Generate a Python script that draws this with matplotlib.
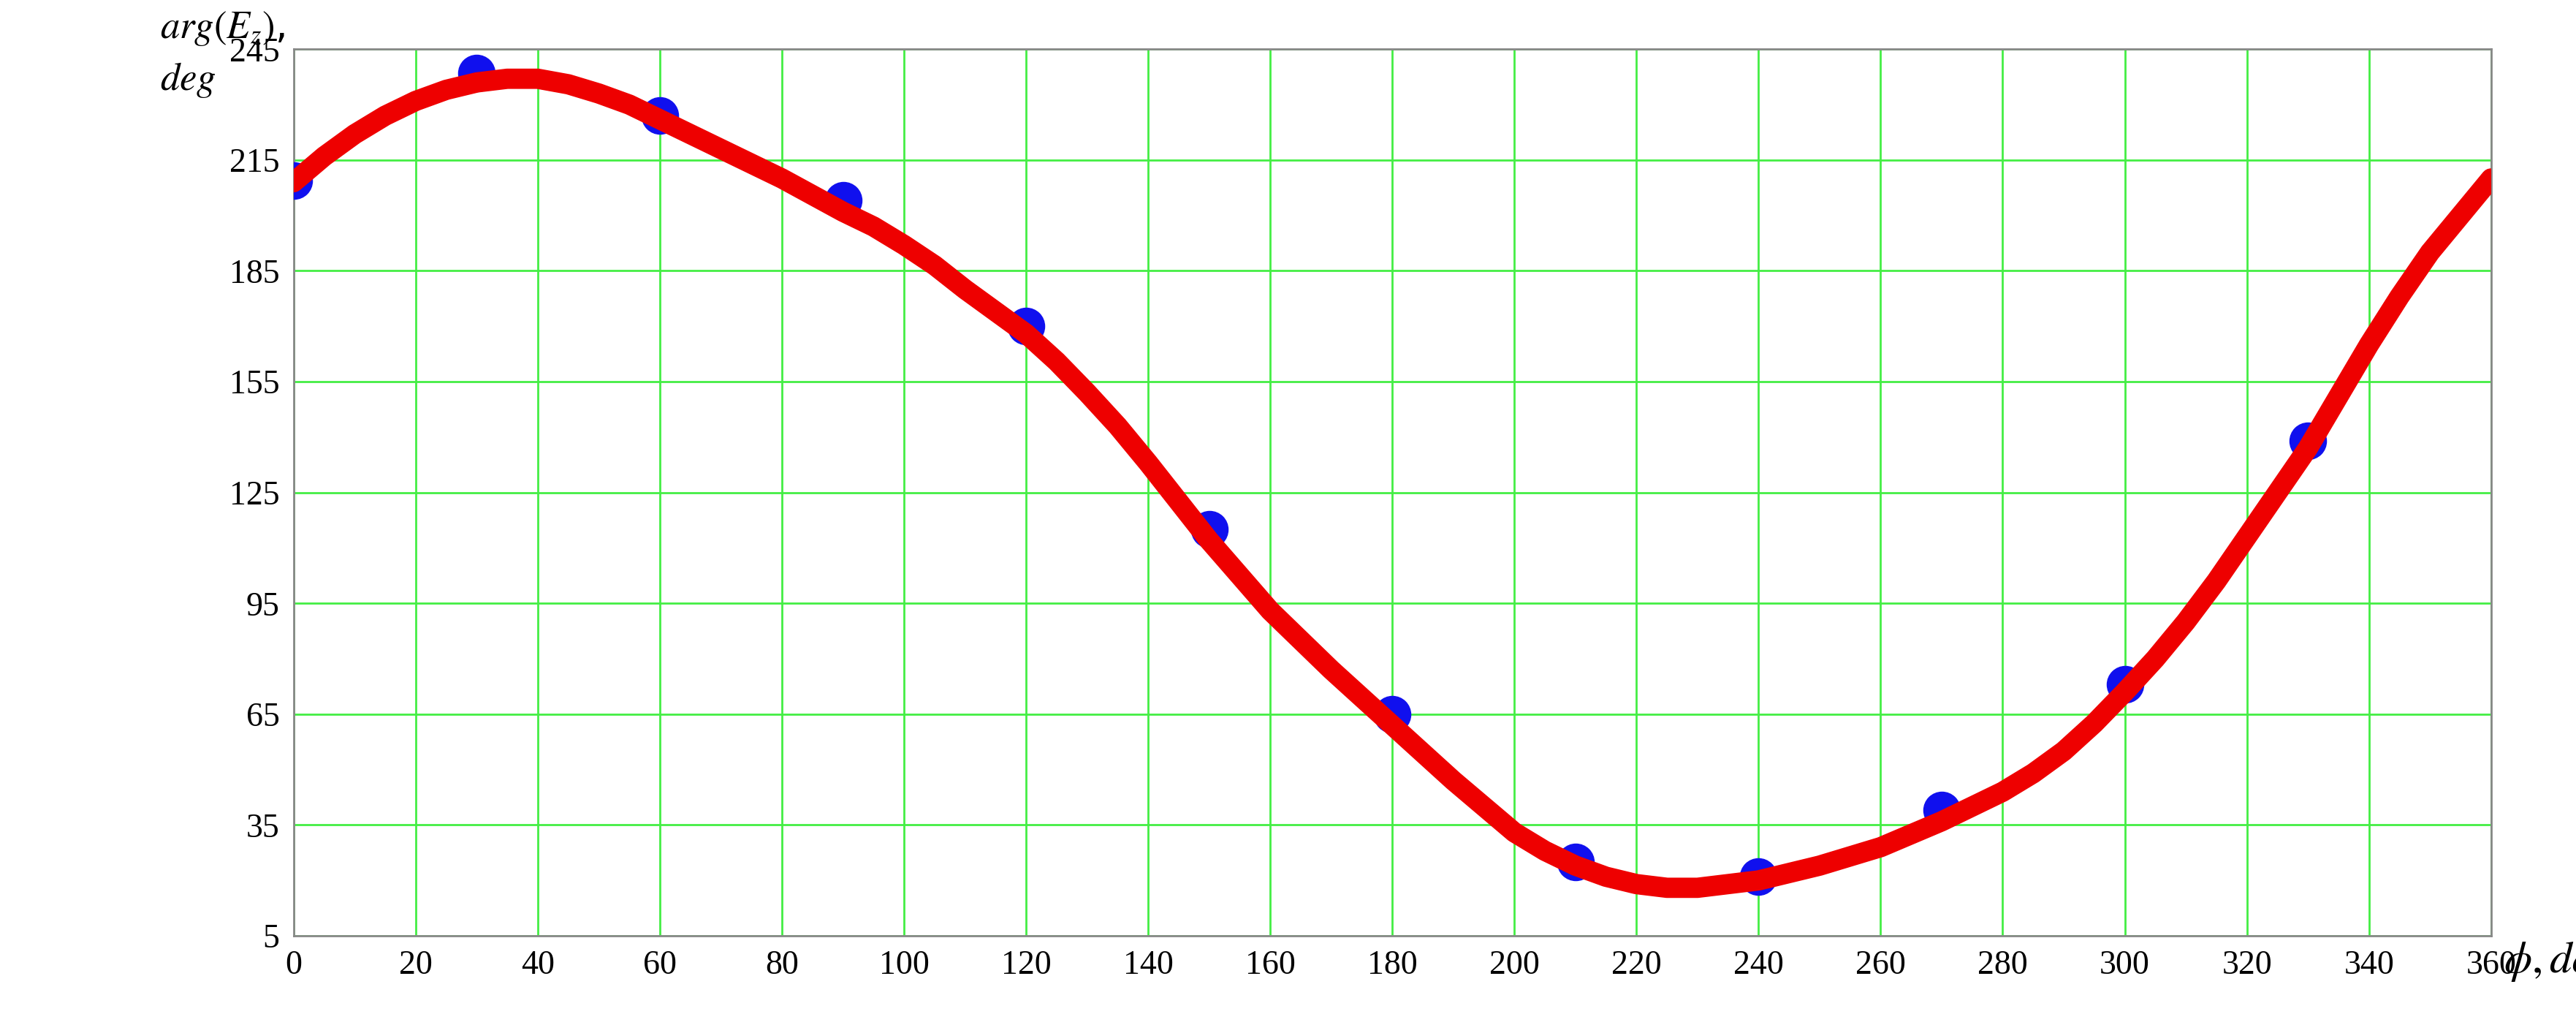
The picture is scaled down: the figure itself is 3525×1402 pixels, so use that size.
import matplotlib
matplotlib.use("Agg")
import matplotlib.pyplot as plt
plt.rcParams['mathtext.fontset'] = 'stix'

phi_curve = list(range(0,361,5))
arg_curve = [209,216,222,227,231,234,236,237,237,235.5,233,230,226,222,218,214,210,205.5,
             201,197,192,186.5,180,174,168,160.5,152,143,133,122.5,112,102.5,93,85,77,69.5,
             62,54.5,47,40,33,28,24,21,19,18,18,19,20,22,24,26.5,29,32.5,36,40,44,49,55,62.5,
             71,80,90,101,113,125,137,151,165,178,190,200,210]
phi_pts = [0,30,60,90,120,150,180,210,240,270,300,330]
arg_pts = [209.5,238.5,227,204,170,115,65,25,21,39,73,139]
xticks = list(range(0,361,20))
yticks = list(range(5,246,30))

fig = plt.figure(figsize=(35.25,14.02), dpi=100)
ax = fig.add_axes([0.114,0.087,0.853,0.865])
ax.grid(True, color='#44ee44', linewidth=2)
ax.set_axisbelow(True)
ax.scatter(phi_pts, arg_pts, s=1300, color='#1010ee', zorder=3)
ax.plot(phi_curve, arg_curve, color='#ee0000', linewidth=20, solid_capstyle='round',
        solid_joinstyle='round', zorder=4)
ax.set_xlim(0,360); ax.set_ylim(5,245)
ax.set_xticks(xticks); ax.set_yticks(yticks)
for s in ax.spines.values():
    s.set_color('#888888'); s.set_linewidth(2)
ax.tick_params(length=0, labelsize=33, pad=14)
for l in ax.get_xticklabels()+ax.get_yticklabels():
    l.set_fontfamily('Liberation Serif')
fig.text(0.972,0.062,r'$\phi, deg$', fontsize=44, ha='left', va='center')
fig.text(0.062,0.972,r'$arg(E_z)$,', fontsize=38, ha='left', va='center')
fig.text(0.062,0.922,r'$deg$', fontsize=38, ha='left', va='center')
fig.savefig('out.png', dpi=100, facecolor='white')
